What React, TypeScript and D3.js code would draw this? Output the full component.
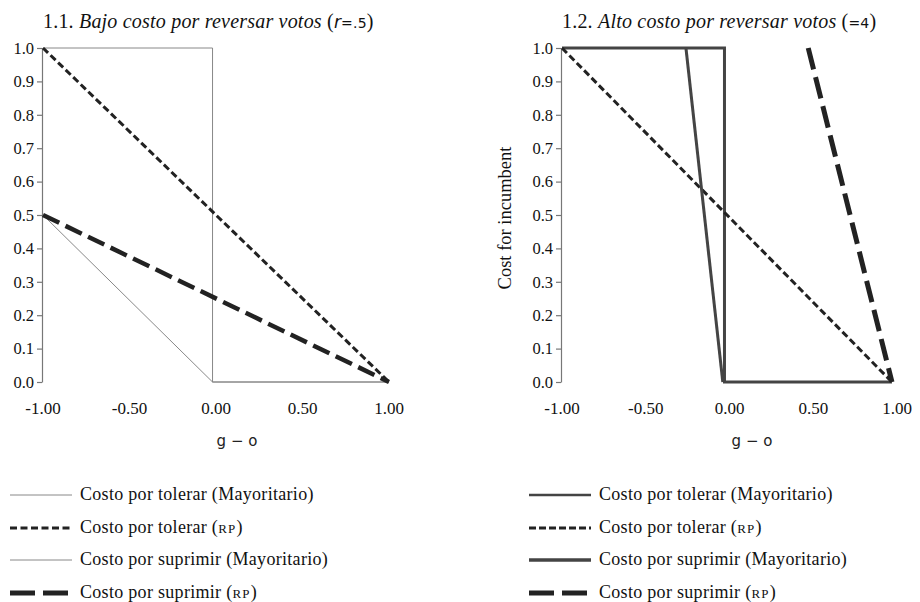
import React, { useEffect, useRef } from "react";
import * as d3 from "d3";

const xTicks = [-1, -0.5, 0, 0.5, 1];
const yTicks = [0, 0.1, 0.2, 0.3, 0.4, 0.5, 0.6, 0.7, 0.8, 0.9, 1.0];

// 1.1 low cost of reversing votes
const lowTolerarMayX = [-1, -0.02, -0.02, 1];
const lowTolerarMayY = [1, 1, 0, 0];
const lowTolerarRpX = [-1, 1];
const lowTolerarRpY = [1, 0];
const lowSuprimirMayX = [-1, -0.02, 1];
const lowSuprimirMayY = [0.5, 0, 0];
const lowSuprimirRpX = [-1, 1];
const lowSuprimirRpY = [0.5, 0];

// 1.2 high cost of reversing votes
const highTolerarMayX = [-1, -0.03, -0.03, 0.97];
const highTolerarMayY = [1, 1, 0, 0];
const highTolerarRpX = [-1, 0.97];
const highTolerarRpY = [1, 0];
const highSuprimirMayX = [-0.26, -0.04];
const highSuprimirMayY = [1, 0];
const highSuprimirRpX = [0.47, 0.97];
const highSuprimirRpY = [1, 0];

const legendNames = ["Costo por tolerar", "Costo por tolerar", "Costo por suprimir", "Costo por suprimir"];
const legendSystems = ["Mayoritario", "RP", "Mayoritario", "RP"];

const serif = "'Liberation Serif', 'DejaVu Serif', serif";
const sans = "'DejaVu Sans', sans-serif";

const fmt = d3.formatLocale({
  decimal: ".",
  thousands: ",",
  grouping: [3],
  currency: ["", ""],
  minus: "-",
});

const App = () => {
  const svgRef = useRef<SVGSVGElement>(null);

  useEffect(() => {
    const svg = d3.select(svgRef.current);
    svg.selectAll("*").remove();

    const y = d3.scaleLinear().domain([0, 1]).range([382, 48]);

    const panels = [
      {
        x: d3.scaleLinear().domain([-1, 1]).range([43, 389]),
        num: "1.1. ",
        title: "Bajo costo por reversar votos",
        param: ["r", "=.5"],
        ylabel: null,
        labelX: 237,
        legendX: 10,
        series: [
          { xs: lowTolerarMayX, ys: lowTolerarMayY, color: "#888", width: 1, dash: null, legDash: null, legWidth: 1 },
          { xs: lowTolerarRpX, ys: lowTolerarRpY, color: "#222", width: 3, dash: "7,3.5", legDash: "7,3.5", legWidth: 3 },
          { xs: lowSuprimirMayX, ys: lowSuprimirMayY, color: "#888", width: 1, dash: null, legDash: null, legWidth: 1 },
          { xs: lowSuprimirRpX, ys: lowSuprimirRpY, color: "#222", width: 4.5, dash: "18,7", legDash: "25,8", legWidth: 5 },
        ],
      },
      {
        x: d3.scaleLinear().domain([-1, 1]).range([562, 897]),
        num: "1.2. ",
        title: "Alto costo por reversar votos",
        param: ["", "=4"],
        ylabel: "Cost for incumbent",
        labelX: 752,
        legendX: 529,
        series: [
          { xs: highTolerarMayX, ys: highTolerarMayY, color: "#444", width: 3, dash: null, legDash: null, legWidth: 2.5 },
          { xs: highTolerarRpX, ys: highTolerarRpY, color: "#222", width: 3, dash: "7,3.5", legDash: "7,3", legWidth: 3 },
          { xs: highSuprimirMayX, ys: highSuprimirMayY, color: "#444", width: 3, dash: null, legDash: null, legWidth: 3.5 },
          { xs: highSuprimirRpX, ys: highSuprimirRpY, color: "#222", width: 5, dash: "22,8", legDash: "25,8", legWidth: 5 },
        ],
      },
    ];

    panels.forEach((p) => {
      const g = svg.append("g");
      const x0 = p.x(-1);

      // title
      const t = g
        .append("text")
        .attr("x", x0)
        .attr("y", 28)
        .attr("font-family", serif)
        .attr("font-size", 20)
        .attr("letter-spacing", 0.2)
        .attr("fill", "#111");
      t.append("tspan").text(p.num);
      t.append("tspan").attr("font-style", "italic").text(p.title);
      t.append("tspan").text(" (");
      if (p.param[0]) {
        t.append("tspan").attr("font-family", sans).attr("font-style", "italic").attr("font-size", 17).text(p.param[0]);
      }
      t.append("tspan").attr("font-family", sans).attr("font-size", 14).text(p.param[1]);
      t.append("tspan").text(")");

      // y axis
      const axis = d3
        .axisLeft(y)
        .tickValues(yTicks)
        .tickFormat(fmt.format(".1f"))
        .tickSize(5)
        .tickSizeOuter(0)
        .tickPadding(3);
      const ag = g.append("g").attr("transform", `translate(${x0 - 1},0)`).call(axis);
      ag.select(".domain").attr("stroke", "#777").attr("stroke-width", 1.2);
      ag.selectAll(".tick line").attr("stroke", "#777").attr("stroke-width", 1.2);
      ag.selectAll(".tick text").attr("font-family", serif).attr("font-size", 16.5).attr("fill", "#111");

      // x tick labels (no axis line)
      g.selectAll(".xt")
        .data(xTicks)
        .join("text")
        .attr("x", (d) => p.x(d))
        .attr("y", 414)
        .attr("text-anchor", "middle")
        .attr("font-family", serif)
        .attr("font-size", 17)
        .attr("fill", "#111")
        .text((d) => fmt.format(".2f")(d));

      g.append("text")
        .attr("x", p.labelX)
        .attr("y", 446)
        .attr("text-anchor", "middle")
        .attr("font-family", sans)
        .attr("font-size", 15)
        .attr("fill", "#222")
        .text("g \u2212 o");

      if (p.ylabel) {
        g.append("text")
          .attr("transform", `translate(${x0 - 51},218) rotate(-90)`)
          .attr("text-anchor", "middle")
          .attr("font-family", serif)
          .attr("font-size", 18.5)
          .attr("fill", "#111")
          .text(p.ylabel);
      }

      // series
      p.series.forEach((s) => {
        const pts = s.xs.map((v, i) => [v, s.ys[i]] as [number, number]);
        const gen = d3
          .line<[number, number]>()
          .x((d) => p.x(d[0]))
          .y((d) => y(d[1]));
        g.append("path")
          .datum(pts)
          .attr("d", gen)
          .attr("fill", "none")
          .attr("stroke", s.color)
          .attr("stroke-width", s.width)
          .attr("stroke-linejoin", "miter")
          .attr("stroke-dasharray", s.dash);
      });

      // legend
      const rowY = [495, 528, 560, 593];
      p.series.forEach((s, i) => {
        g.append("line")
          .attr("x1", p.legendX)
          .attr("x2", p.legendX + 62)
          .attr("y1", rowY[i])
          .attr("y2", rowY[i])
          .attr("stroke", s.color)
          .attr("stroke-width", s.legWidth)
          .attr("stroke-dasharray", s.legDash);
        const lt = g
          .append("text")
          .attr("x", p.legendX + 70)
          .attr("y", rowY[i] + 5)
          .attr("font-family", serif)
          .attr("font-size", 18)
          .attr("letter-spacing", 0.3)
          .attr("fill", "#111");
        lt.append("tspan").text(`${legendNames[i]} (`);
        lt.append("tspan")
          .attr("font-size", legendSystems[i] === "RP" ? 13 : 18)
          .attr("letter-spacing", legendSystems[i] === "RP" ? 1.2 : 0.3)
          .text(legendSystems[i]);
        lt.append("tspan").text(")");
      });
    });
  }, []);

  return (
    <svg
      ref={svgRef}
      width={920}
      height={602}
      style={{ position: "absolute", left: 0, top: 0, background: "#fff" }}
    ></svg>
  );
};

export default App;
